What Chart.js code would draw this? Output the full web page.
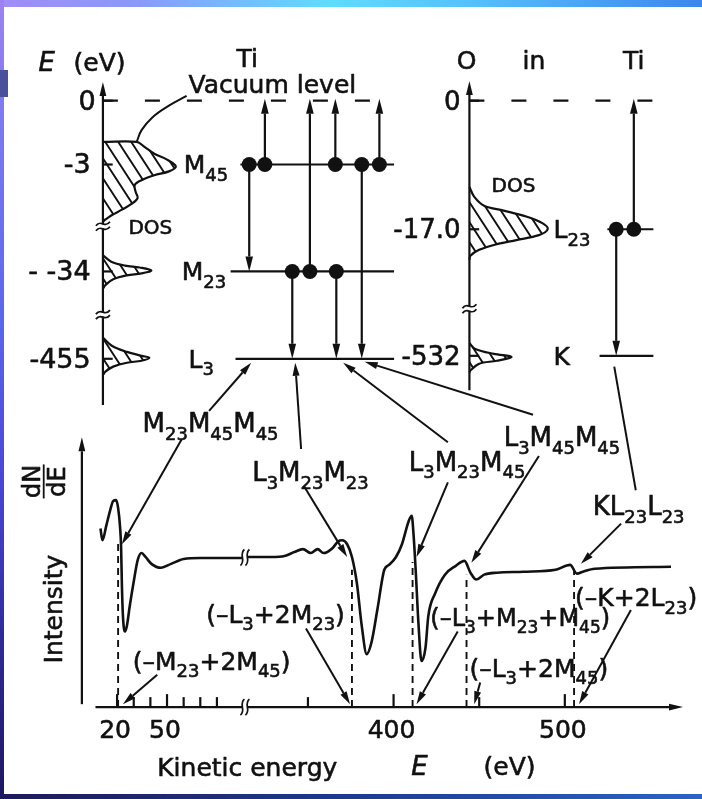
<!DOCTYPE html>
<html>
<head>
<meta charset="utf-8">
<script src="https://cdn.jsdelivr.net/npm/chart.js@4.4.1/dist/chart.umd.min.js"></script>
<style>
  html, body { margin: 0; padding: 0; background: #fff; }
  body { width: 702px; height: 799px; position: relative; overflow: hidden; }
  .bar { position: absolute; }
  #top { left: 0; top: 0; width: 702px; height: 7px;
    background: linear-gradient(90deg, #a08cf6 0%, #8a9afb 20%, #5fdcfd 47%, #55bffb 68%, #3c86ee 100%); }
  #left { left: 0; top: 0; width: 4px; height: 799px;
    background: linear-gradient(180deg, #9d82f3 0%, #7c7af2 15%, #5a66ee 40%, #4a46d8 60%, #2f2a9a 80%, #1c1862 100%); }
  #block { left: 0; top: 70px; width: 8px; height: 27px; background: #4b509c; }
  #bottom { left: 0; top: 794px; width: 702px; height: 5px;
    background: linear-gradient(90deg, #1d1a5c 0%, #1f3a8e 50%, #2a64c6 100%); }
  #wrap { position: absolute; left: 0; top: 0; width: 702px; height: 799px; }
</style>
</head>
<body>
<div class="bar" id="top"></div>
<div class="bar" id="left"></div>
<div class="bar" id="block"></div>
<div class="bar" id="bottom"></div>
<div id="wrap"><canvas id="auger" width="702" height="799"></canvas></div>
<script>
// ---------- data ----------
// Ti levels (binding energy, eV) and O in Ti levels
const tiLevelLabels = ["0", "-3", "- -34", "-455"];
const tiLevelNames = ["", "M{45}", "M{23}", "L{3}"];
const oLevelLabels = ["0", "-17.0", "-532"];
const oLevelNames = ["", "L{23}", "K"];

// electrons sitting on levels (level index) and transitions (from -> to level index)
const tiElectronLevel = [1, 1, 1, 1, 1, 2, 2, 2];
const tiTransFrom = [1, 1, 2, 2, 1, 2, 1, 1];
const tiTransTo = [2, 0, 3, 0, 0, 3, 3, 0];
const oElectronLevel = [1, 1];
const oTransFrom = [1, 1];
const oTransTo = [2, 0];

// dN/dE spectrum: kinetic energy (eV) and intensity (arb. units)
const spectrumE = [10.0, 11.2, 13.5, 15.9, 17.6, 19.4, 20.6, 21.8, 22.4, 22.9, 23.5, 24.7, 25.9, 27.6, 30.0, 32.4,
  34.7, 37.1, 40.6, 46.5, 52.4, 60.0, 70.0, 95.3,
  314.6, 328.9, 336.3, 342.0, 347.1, 351.7, 355.7, 359.1, 364.3, 367.7, 370.0, 372.9, 375.7, 378.6, 381.4, 384.3,
  387.1, 390.6, 394.6, 397.4, 401.4, 404.9, 408.9, 410.6, 411.7, 412.9, 414.6, 416.3, 418.6, 420.3, 424.3, 430.0,
  436.3, 441.4, 444.9, 448.3, 452.9, 460.3, 475.7, 494.6, 503.1, 507.1, 510.6, 517.4, 562.0];
const spectrumI = [18.2, 17.0, 18.5, 20.1, 21.0, 21.1, 20.3, 18.3, 16.3, 12.3, 9.3, 7.7, 8.3, 10.3, 12.8, 15.0,
  15.7, 15.3, 14.6, 14.2, 14.6, 15.1, 15.2, 15.2,
  15.3, 15.3, 15.4, 15.8, 16.1, 15.7, 16.1, 15.7, 16.2, 16.9, 17.0, 16.6, 15.3, 12.6, 8.3, 5.4,
  6.6, 10.0, 14.0, 14.5, 15.3, 16.6, 19.0, 19.5, 17.5, 14.0, 8.3, 4.7, 6.0, 9.3, 11.6, 13.5,
  14.4, 14.9, 13.7, 13.0, 13.5, 13.7, 13.8, 14.0, 14.5, 13.6, 13.8, 14.1, 14.3];

// Auger peaks
const augerNames = ["M{23}M{45}M{45}", "L{3}M{23}M{23}", "L{3}M{23}M{45}", "L{3}M{45}M{45}", "KL{23}L{23}"];
const augerE = [22.9, 372.9, 413.4, 445.4, 509.4];
const augerI = [16.6, 15.3, 15.3, 14.7, 14.6];

// threshold energies
const thresholdNames = ["(–M{23}+2M{45})", "(–L{3}+2M{23})", "(–L{3}+M{23}+M{45})", "(–L{3}+2M{45})", "(–K+2L{23})"];
const thresholdE = [23.5, 374.6, 413.4, 447.1, 508.3];
const edgeE = [20.6, 375.7, 411.1, 442.6, 505.4];
const edgeTopI = [17.0, 14.0, 14.8, 13.5, 14.0];

// energy axis ticks
const energyTicks = [20, 30, 40, 50, 60, 70, 80, 350, 400, 450, 500];
const energyTickLabels = [20, 50, 400, 500];

// density of states outlines (DOS amplitude column, schematic depth)
const tiDosValX = [9.8, 13.2, 14.0, 15.0, 16.3, 17.2, 16.5, 15.0, 13.7, 13.0, 13.1, 13.3, 12.7, 11.7, 10.6, 9.9, 9.8];
const tiDosValY = [4.2, 4.2, 4.7, 5.4, 6.0, 6.7, 7.2, 7.6, 8.1, 8.6, 9.3, 9.9, 10.5, 11.1, 11.7, 12.2, 12.3];
const tiDosM23X = [9.8, 10.6, 12.0, 13.5, 14.7, 13.7, 12.2, 10.8, 10.0, 9.8];
const tiDosM23Y = [15.8, 16.4, 16.8, 17.0, 17.3, 17.6, 17.8, 18.2, 18.8, 19.1];
const tiDosL3X = [9.8, 10.7, 12.2, 13.7, 14.5, 13.7, 12.2, 10.8, 10.0, 9.8];
const tiDosL3Y = [24.2, 25.0, 25.6, 26.0, 26.2, 26.5, 26.7, 27.1, 27.6, 27.9];
const oDosL23X = [47.2, 47.7, 48.7, 50.7, 53.0, 54.7, 55.2, 54.3, 52.0, 49.7, 48.2, 47.3, 47.2];
const oDosL23Y = [8.8, 9.8, 10.7, 11.2, 11.8, 12.5, 13.1, 13.7, 14.2, 14.7, 15.2, 15.8, 16.2];
const oDosKX = [47.2, 47.8, 49.7, 51.5, 50.0, 48.2, 47.3, 47.2];
const oDosKY = [24.7, 25.3, 25.8, 26.1, 26.5, 26.8, 27.5, 27.7];

// ---------- layout ----------
const BLACK = "#111";
const FONT = '"DejaVu Sans", "Liberation Sans", sans-serif';
const tiRows = [0, 6.5, 17.4, 26.3];
const oRows = [0, 13.1, 26.0];
const TI_AXIS = 9.75, O_AXIS = 47.2;
const tiLineStart = [TI_AXIS, 23.8, 22.8, 23.3], TI_LINE_END = 39.5;
const oLineStart = [O_AXIS, 61.3, 60.5], O_LINE_END = 66.0;
const tiElectronCol = [24.7, 26.3, 33.5, 36.2, 38.0, 29.1, 30.9, 33.6];
const tiTransCol = [24.7, 26.3, 29.1, 30.9, 33.5, 33.6, 36.2, 38.0];
const oElectronCol = [62.2, 64.0];
const oTransCol = [62.2, 64.0];
const vacLeaderX = [18.3, 16.5, 14.8, 13.7, 13.2];
const vacLeaderY = [-0.5, 0.5, 1.7, 3.0, 4.2];

const augerLayout = [
  { at: [13.8, 33.8], up: [[20.6, 31.6], [24.9, 26.7]], down: [17.8, 34.5] },
  { at: [25.0, 38.8], up: [[30.0, 35.5], [29.4, 26.7]], down: [30.3, 39.3] },
  { at: [41.0, 37.7], up: [[45.0, 34.8], [34.3, 26.7]], down: [45.0, 38.9] },
  { at: [50.7, 35.2], up: [[53.7, 32.0], [36.5, 26.6]], down: [54.3, 36.2] },
  { at: [59.8, 42.2], up: [[62.0, 27.1], [64.2, 39.7]], down: [62.7, 43.1], plain: true }
];
const thresholdLayout = [
  { at: [12.8, 58.0], from: [15.3, 58.5], size: 25 },
  { at: [20.3, 53.2], from: [30.5, 53.8], size: 25 },
  { at: [43.2, 53.5], from: [46.0, 54.1], size: 24 },
  { at: [47.2, 58.7], from: [48.3, 59.3], size: 25 },
  { at: [58.0, 51.5], from: [63.7, 51.9], size: 25 }
];

// broken energy axis: the low-energy segment is compressed onto the high-energy units
const LOW_SEGMENT_END = 150;
function toAxis(e) { return e < LOW_SEGMENT_END ? 219.143 + 0.97143 * e : e; }
const AXIS_E0 = 7, AXIS_E1 = 569, BREAK_LOW = 96, BREAK_HIGH = 314;

const ctx = document.getElementById("auger").getContext("2d");

function hatchPattern() {
  const t = document.createElement("canvas");
  t.width = 13; t.height = 20;
  const g = t.getContext("2d");
  g.strokeStyle = BLACK; g.lineWidth = 1.9;
  g.beginPath();
  for (const o of [-13, 0, 13]) { g.moveTo(o - 2.6, -4); g.lineTo(o + 15.6, 24); }
  g.stroke();
  return ctx.createPattern(t, "repeat");
}
const hatch = hatchPattern();

const pts = (xs, ys, fx = v => v) => xs.map((x, i) => ({ x: fx(x), y: ys[i] }));
const diag = { xAxisID: "xd", yAxisID: "yd" };
const lineDs = (data, extra) => Object.assign({ data, showLine: true, borderColor: BLACK, borderWidth: 2.2,
  pointRadius: 0, fill: false }, diag, extra);

const datasets = [];
// electrons
datasets.push(Object.assign({
  data: [...tiElectronCol.map((c, i) => ({ x: c, y: tiRows[tiElectronLevel[i]] })),
         ...oElectronCol.map((c, i) => ({ x: c, y: oRows[oElectronLevel[i]] }))],
  showLine: false, pointRadius: 7.5, backgroundColor: BLACK, borderWidth: 0
}, diag));
// spectrum
datasets.push({
  data: pts(spectrumE, spectrumI, toAxis), xAxisID: "x", yAxisID: "y", showLine: true,
  borderColor: BLACK, borderWidth: 2.6, pointRadius: 0, cubicInterpolationMode: "monotone", fill: false
});
// threshold edges (dashed)
edgeE.forEach((e, i) => datasets.push({
  data: [{ x: toAxis(e), y: 0 }, { x: toAxis(e), y: edgeTopI[i] }], xAxisID: "x", yAxisID: "y",
  showLine: true, borderColor: BLACK, borderWidth: 1.9, borderDash: [7, 5], pointRadius: 0
}));
// energy levels
tiRows.forEach((r, i) => datasets.push(lineDs([{ x: tiLineStart[i], y: r }, { x: TI_LINE_END, y: r }],
  i === 0 ? { borderDash: [15, 27] } : {})));
oRows.forEach((r, i) => datasets.push(lineDs([{ x: oLineStart[i], y: r }, { x: O_LINE_END, y: r }],
  i === 0 ? { borderDash: [15, 27] } : {})));
// DOS
[[tiDosValX, tiDosValY], [tiDosM23X, tiDosM23Y], [tiDosL3X, tiDosL3Y], [oDosL23X, oDosL23Y], [oDosKX, oDosKY]]
  .forEach(([xs, ys]) => datasets.push(lineDs(pts(xs, ys), { fill: "shape", backgroundColor: hatch, tension: 0.35 })));
// vacuum level leader
datasets.push(lineDs(pts(vacLeaderX, vacLeaderY), { tension: 0.4, borderWidth: 2 }));

// ---------- drawing helpers ----------
function arrow(c, x1, y1, x2, y2, head = 13, half = 3.6) {
  const a = Math.atan2(y2 - y1, x2 - x1);
  const bx = x2 - head * Math.cos(a), by = y2 - head * Math.sin(a);
  c.beginPath(); c.moveTo(x1, y1); c.lineTo(bx, by); c.stroke();
  c.beginPath(); c.moveTo(x2, y2);
  c.lineTo(bx + half * Math.sin(a), by - half * Math.cos(a));
  c.lineTo(bx - half * Math.sin(a), by + half * Math.cos(a));
  c.closePath(); c.fill();
}
function line(c, x1, y1, x2, y2) { c.beginPath(); c.moveTo(x1, y1); c.lineTo(x2, y2); c.stroke(); }

function richText(c, str, x, y, size, align = "left", italic = false) {
  const parts = [];
  str.replace(/\{([^}]*)\}|([^{]+)/g, (m, sub, main) => { parts.push(sub !== undefined ? { t: sub, sub: true } : { t: main, sub: false }); });
  const font = p => `${italic ? "italic " : ""}${p.sub ? Math.round(size * 0.7) : size}px ${FONT}`;
  let w = 0;
  parts.forEach(p => { c.font = font(p); p.w = c.measureText(p.t).width; w += p.w; });
  let cx = align === "center" ? x - w / 2 : align === "right" ? x - w : x;
  c.save();
  c.textAlign = "left"; c.textBaseline = "alphabetic";
  c.lineWidth = 0.6; c.strokeStyle = BLACK; c.fillStyle = BLACK; c.lineJoin = "round";
  parts.forEach(p => {
    c.font = font(p);
    const yy = y + (p.sub ? size * 0.3 : 0);
    c.fillText(p.t, cx, yy); c.strokeText(p.t, cx, yy);
    cx += p.w;
  });
  c.restore();
}
function vBreak(c, x, y) {
  c.save(); c.fillStyle = "#fff"; c.fillRect(x - 2, y - 2, 4, 4); c.restore();
  for (const o of [-2.5, 2.5]) {
    c.beginPath(); c.moveTo(x - 7, y + o + 2); c.bezierCurveTo(x - 2, y + o - 5, x + 2, y + o + 5, x + 7, y + o - 2); c.stroke();
  }
}
function hBreak(c, x, y) {
  c.save(); c.fillStyle = "#fff"; c.fillRect(x - 2, y - 2, 4, 4); c.restore();
  for (const o of [-2.5, 2.5]) {
    c.beginPath(); c.moveTo(x + o - 2, y + 8); c.bezierCurveTo(x + o + 4, y + 3, x + o - 4, y - 3, x + o + 2, y - 8); c.stroke();
  }
}

const drawing = {
  id: "drawing",
  afterDatasetsDraw(chart) {
    const c = chart.ctx, s = chart.scales;
    const X = e => s.x.getPixelForValue(toAxis(e));
    const Y = v => s.y.getPixelForValue(v);
    const DX = v => s.xd.getPixelForValue(v);
    const DY = v => s.yd.getPixelForValue(v);
    c.save();
    c.strokeStyle = BLACK; c.fillStyle = BLACK; c.lineWidth = 2.2;

    // level diagrams: axes, ticks, breaks
    arrow(c, DX(TI_AXIS), DY(31.0), DX(TI_AXIS), DY(-1.9), 14, 3.4);
    arrow(c, DX(O_AXIS), DY(29.5), DX(O_AXIS), DY(-2.0), 14, 3.4);
    tiRows.forEach(r => line(c, DX(TI_AXIS), DY(r), DX(TI_AXIS + 1.0), DY(r)));
    oRows.forEach(r => line(c, DX(O_AXIS), DY(r), DX(O_AXIS + 1.0), DY(r)));
    c.lineWidth = 1.8;
    vBreak(c, DX(TI_AXIS), DY(12.8));
    vBreak(c, DX(TI_AXIS), DY(21.8));
    vBreak(c, DX(O_AXIS), DY(21.2));

    // transitions
    c.lineWidth = 2.2;
    const trans = (cols, from, to, rows) => cols.forEach((col, i) => {
      const y1 = DY(rows[from[i]]), y2 = to[i] === 0 ? DY(-0.2) : DY(rows[to[i]]);
      arrow(c, DX(col), y1, DX(col), y2, 15, 3.8);
    });
    trans(tiTransCol, tiTransFrom, tiTransTo, tiRows);
    trans(oTransCol, oTransFrom, oTransTo, oRows);

    // Auger leaders
    c.lineWidth = 2;
    augerLayout.forEach((L, i) => {
      const [a, b] = L.up;
      if (L.plain) line(c, DX(a[0]), DY(a[1]), DX(b[0]), DY(b[1]));
      else arrow(c, DX(a[0]), DY(a[1]), DX(b[0]), DY(b[1]), 13, 3.5);
      arrow(c, DX(L.down[0]), DY(L.down[1]), X(augerE[i]), Y(augerI[i]), 13, 3.5);
    });
    thresholdLayout.forEach((L, i) => arrow(c, DX(L.from[0]), DY(L.from[1]), X(thresholdE[i]), Y(0.3), 13, 3.5));

    // spectrum axes
    c.lineWidth = 2.2;
    arrow(c, X(AXIS_E0), Y(0), X(AXIS_E1), Y(0), 14, 3.4);
    arrow(c, DX(7.6), Y(0.3), DX(7.6), Y(27.5), 14, 3.4);
    energyTicks.forEach(e => {
      const h = energyTickLabels.includes(e) ? 13 : 10;
      line(c, X(e), Y(0), X(e), Y(0) - h);
    });
    c.lineWidth = 1.7;
    const bx = (X(BREAK_LOW) + X(BREAK_HIGH)) / 2;
    hBreak(c, bx, Y(0));
    hBreak(c, bx, Y(15.25));

    // texts
    energyTickLabels.forEach(e => richText(c, String(e), X(e) - 2, Y(0) + 31, 25, "center"));
    richText(c, "Kinetic energy", DX(15.3), DY(68.8), 25);
    richText(c, "E", DX(42.1), DY(68.7), 26, "center", true);
    richText(c, "(eV)", DX(51.3), DY(68.7), 25, "center");
    c.save(); c.translate(DX(4.7), DY(51.8)); c.rotate(-Math.PI / 2);
    richText(c, "Intensity", 0, 9, 25, "center");
    c.restore();
    c.save(); c.translate(DX(3.7), DY(38.8)); c.rotate(-Math.PI / 2);
    richText(c, "dN", 0, -4, 24, "center");
    richText(c, "dE", 0, 21, 24, "center");
    c.lineWidth = 1.8; line(c, -17, 0, 17, 0);
    c.restore();

    richText(c, "E", DX(4.0), DY(-3.0), 26, "center", true);
    richText(c, "(eV)", DX(9.4), DY(-3.0), 25, "center");
    richText(c, "Ti", DX(24.5), DY(-3.4), 25, "center");
    richText(c, "O", DX(46.9), DY(-3.2), 25, "center");
    richText(c, "in", DX(53.8), DY(-3.2), 25, "center");
    richText(c, "Ti", DX(64.0), DY(-3.2), 25, "center");
    richText(c, "Vacuum level", DX(18.5), DY(-0.8), 25);

    tiLevelLabels.forEach((t, i) => richText(c, t, DX(i === 0 ? 9.0 : 8.5), DY(tiRows[i] + 0.9), 27, "right"));
    oLevelLabels.forEach((t, i) => richText(c, t, DX(46.3), DY(oRows[i] + 0.9), 26, "right"));
    tiLevelNames.forEach((t, i) => { if (t) richText(c, t, DX([0, 18.0, 17.8, 18.5][i]), DY(tiRows[i] + 0.9), 25); });
    oLevelNames.forEach((t, i) => { if (t) richText(c, t, DX(55.8), DY(oRows[i] + 0.9), 25); });
    richText(c, "DOS", DX(14.6), DY(13.6), 20, "center");
    richText(c, "DOS", DX(51.7), DY(9.3), 20, "center");

    augerNames.forEach((t, i) => richText(c, t, DX(augerLayout[i].at[0]), DY(augerLayout[i].at[1]), 26));
    thresholdNames.forEach((t, i) => richText(c, t, DX(thresholdLayout[i].at[0]), DY(thresholdLayout[i].at[1]), thresholdLayout[i].size));
    c.restore();
  }
};

new Chart(ctx, {
  type: "scatter",
  data: { datasets },
  options: {
    responsive: false,
    animation: false,
    layout: { padding: 0 },
    plugins: { legend: { display: false }, tooltip: { enabled: false } },
    scales: {
      x: { type: "linear", display: false, min: 174.571, max: 575.714 },
      y: { type: "linear", display: false, min: -8.6, max: 71.3 },
      xd: { type: "linear", axis: "x", position: "bottom", display: false, min: 0, max: 70.2 },
      yd: { type: "linear", axis: "y", position: "left", display: false, min: -9.5, max: 70.4, reverse: true }
    }
  },
  plugins: [drawing]
});
</script>
</body>
</html>
